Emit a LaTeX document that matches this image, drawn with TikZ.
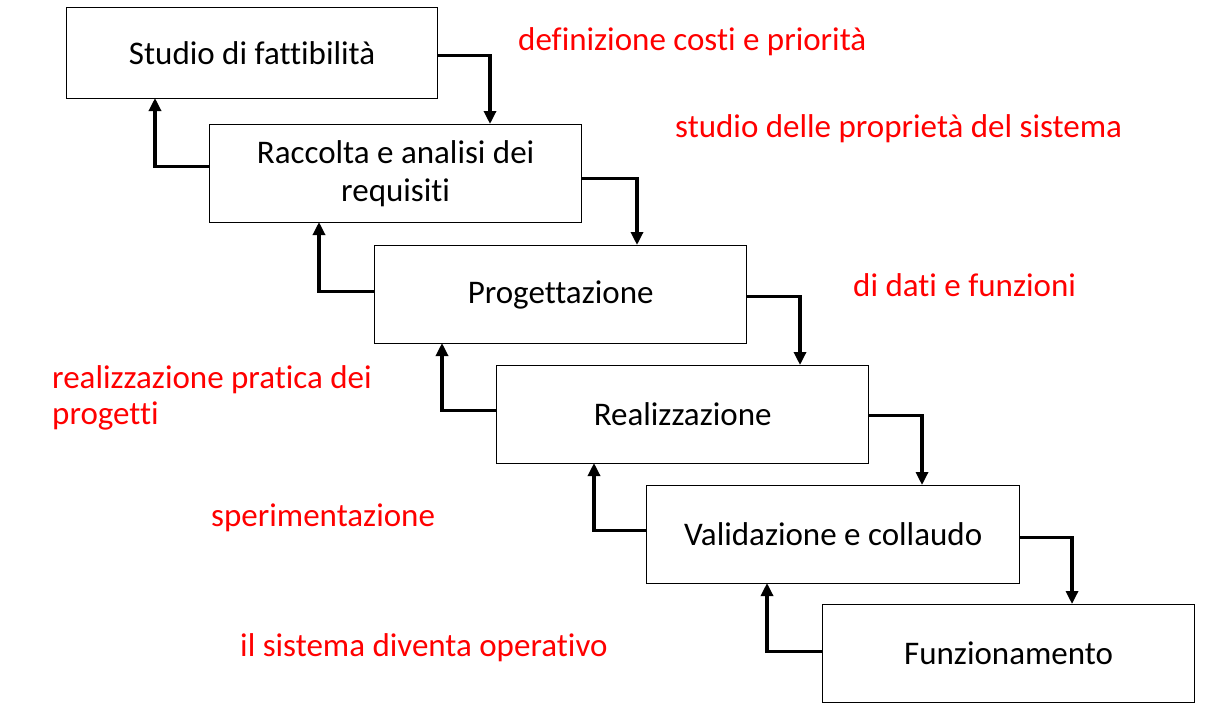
\documentclass[tikz,border=0pt]{standalone}
\usepackage{fontspec}
\setmainfont{Carlito}[Ligatures={NoCommon,NoRare}]
\usetikzlibrary{arrows.meta}
\begin{document}
\begin{tikzpicture}[x=1pt,y=-1pt,
  box/.style={draw,line width=1.3pt,anchor=north west,inner sep=0pt,align=center,font=\fontsize{33}{38}\selectfont,minimum width=#1},
  box/.default=372pt,
  conn/.style={line width=3.2pt,-{Triangle[length=13pt,width=12pt]}},
  note/.style={text=red,anchor=west,inner sep=0pt,font=\fontsize{33}{36}\selectfont,align=left}]
\useasboundingbox (0,0) rectangle (1222,709);
\fill[white] (0,0) rectangle (1222,709);
\node[box=371pt,minimum height=91pt] (b1) at (66,7) {Studio di fattibilità};
\node[box,minimum height=98pt] (b2) at (209,124) {Raccolta e analisi dei\\requisiti};
\node[box,minimum height=98pt] (b3) at (374,245) {Progettazione};
\node[box,minimum height=98pt] (b4) at (496,365) {Realizzazione};
\node[box=373pt,minimum height=98pt] (b5) at (646,485) {Validazione e collaudo};
\node[box,minimum height=98pt] (b6) at (822,604) {Funzionamento};
% forward connectors
\coordinate (r1) at (490,124);
\coordinate (r2) at (637,245);
\coordinate (r3) at (800,365);
\coordinate (r4) at (922,485);
\coordinate (r5) at (1072,604);
\draw[conn] ([yshift=-2pt]b1.east) -| (r1);
\draw[conn] ([yshift=-5pt]b2.east) -| (r2);
\draw[conn] ([yshift=-2pt]b3.east) -| (r3);
\draw[conn] ([yshift=-1pt]b4.east) -| (r4);
\draw[conn] ([yshift=-3pt]b5.east) -| (r5);
% backward connectors
\coordinate (l1) at (155,98);
\coordinate (l2) at (319,222);
\coordinate (l3) at (442,343);
\coordinate (l4) at (594,463);
\coordinate (l5) at (767,583);
\draw[conn] ([yshift=7pt]b2.west) -| (l1);
\draw[conn] ([yshift=3pt]b3.west) -| (l2);
\draw[conn] ([yshift=4pt]b4.west) -| (l3);
\draw[conn] ([yshift=4pt]b5.west) -| (l4);
\draw[conn] ([yshift=2pt]b6.west) -| (l5);
% notes
\node[note] (n1) at (518,42) {definizione costi e priorità};
\node[note] (n2) at (675,129) {studio delle proprietà del sistema};
\node[note] (n3) at (853,285) {di dati e funzioni};
\node[note] (n4) at (52,398) {realizzazione pratica dei\\progetti};
\node[note] (n5) at (211,518) {sperimentazione};
\node[note] (n6) at (240,648) {il sistema diventa operativo};
\end{tikzpicture}
\end{document}
